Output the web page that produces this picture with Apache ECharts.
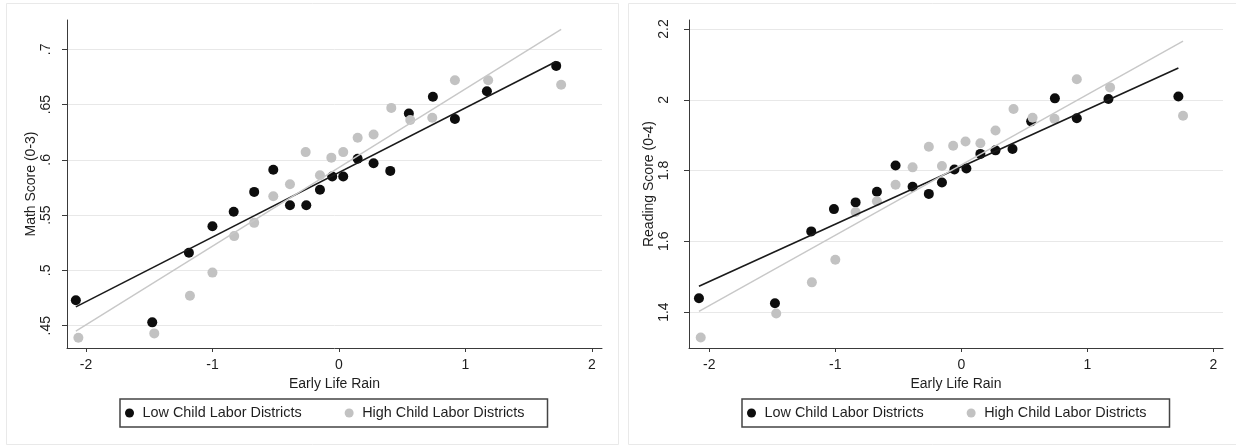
<!DOCTYPE html>
<html>
<head>
<meta charset="utf-8">
<script src="https://cdn.jsdelivr.net/npm/echarts@6/dist/echarts.min.js"></script>
<style>
  html, body { margin: 0; padding: 0; background: #fff; }
  #chart { width: 1236px; height: 446px; }
</style>
</head>
<body>
<div id="chart"></div>
<script>
// binned scatter values
const mathLowX = [-2.08, -1.476, -1.186, -1.0, -0.832, -0.67, -0.519, -0.387, -0.258, -0.15, -0.053, 0.034, 0.148, 0.274, 0.406, 0.553, 0.743, 0.917, 1.17, 1.718]
const mathLowY = [0.473, 0.453, 0.516, 0.540, 0.553, 0.571, 0.591, 0.559, 0.559, 0.573, 0.585, 0.585, 0.601, 0.597, 0.590, 0.642, 0.657, 0.637, 0.662, 0.685]
const mathHighX = [-2.06, -1.46, -1.178, -1.0, -0.828, -0.67, -0.519, -0.387, -0.263, -0.15, -0.06, 0.034, 0.148, 0.274, 0.414, 0.564, 0.738, 0.917, 1.18, 1.757]
const mathHighY = [0.439, 0.443, 0.477, 0.498, 0.531, 0.543, 0.567, 0.578, 0.607, 0.586, 0.602, 0.607, 0.620, 0.623, 0.647, 0.636, 0.638, 0.672, 0.672, 0.668]

const readLowX = [-2.082, -1.479, -1.191, -1.011, -0.839, -0.67, -0.522, -0.387, -0.258, -0.154, -0.055, 0.04, 0.151, 0.271, 0.406, 0.554, 0.742, 0.916, 1.167, 1.722]
const readLowY = [1.439, 1.425, 1.628, 1.691, 1.710, 1.740, 1.814, 1.754, 1.734, 1.766, 1.803, 1.806, 1.847, 1.857, 1.861, 1.939, 2.004, 1.948, 2.002, 2.009]
const readHighX = [-2.068, -1.469, -1.186, -1.0, -0.839, -0.67, -0.522, -0.387, -0.258, -0.154, -0.065, 0.033, 0.151, 0.271, 0.414, 0.565, 0.739, 0.916, 1.18, 1.759]
const readHighY = [1.328, 1.396, 1.484, 1.548, 1.683, 1.713, 1.760, 1.809, 1.867, 1.813, 1.870, 1.882, 1.877, 1.913, 1.974, 1.949, 1.946, 2.058, 2.035, 1.955]

// fitted lines (endpoints)
const mathLowFit = [[-2.08, 0.467], [1.718, 0.689]]
const mathHighFit = [[-2.08, 0.445], [1.757, 0.718]]
const readLowFit = [[-2.082, 1.473], [1.722, 2.090]]
const readHighFit = [[-2.082, 1.402], [1.759, 2.166]]

// tick labels
const rainTicks = [-2, -1, 0, 1, 2]
const mathTicks = [0.45, 0.5, 0.55, 0.6, 0.65, 0.7]
const readTicks = [1.4, 1.6, 1.8, 2, 2.2]

const seriesNames = ['Low Child Labor Districts', 'High Child Labor Districts']

const FONT = 'Liberation Sans'
const TEXT = '#1e1e1e'
const BLACK = '#0d0d0d'
const GRAY = '#c2c2c2'

const pairs = (xs, ys) => xs.map((x, i) => [x, ys[i]])
// Stata style numbers: .5 instead of 0.5
const stataNum = (v) => String(+v.toFixed(3)).replace(/^0\./, '.').replace(/^-0\./, '-.')

const xAxisBase = (gridIndex, min, max) => ({
  type: 'value',
  gridIndex,
  min,
  max,
  name: 'Early Life Rain',
  nameLocation: 'middle',
  nameGap: 29,
  nameTextStyle: { fontFamily: FONT, fontSize: 14, color: TEXT },
  axisLine: { show: true, onZero: false, lineStyle: { color: '#3a3a3a', width: 1 } },
  axisTick: { show: true, length: 4, customValues: rainTicks, lineStyle: { color: '#3a3a3a' } },
  axisLabel: { customValues: rainTicks, margin: 10, fontFamily: FONT, fontSize: 14, color: TEXT, formatter: stataNum },
  splitLine: { show: false },
})

const yAxisBase = (gridIndex, min, max, ticks, name, margin, nameGap) => ({
  type: 'value',
  gridIndex,
  min,
  max,
  name,
  nameLocation: 'middle',
  nameGap,
  nameTextStyle: { fontFamily: FONT, fontSize: 14, color: TEXT },
  axisLine: { show: true, onZero: false, lineStyle: { color: '#3a3a3a', width: 1 } },
  axisTick: { show: true, length: 5, customValues: ticks, lineStyle: { color: '#3a3a3a' } },
  axisLabel: { customValues: ticks, rotate: 90, margin, fontFamily: FONT, fontSize: 14, color: TEXT, formatter: stataNum },
  splitLine: { show: true, lineStyle: { color: '#e8e8e8', width: 1 } },
})

const legendBase = (left) => ({
  data: seriesNames,
  left,
  top: 399,
  orient: 'horizontal',
  icon: 'circle',
  itemWidth: 16,
  itemHeight: 9,
  itemGap: 43,
  padding: [7, 23, 7, 5],
  borderColor: '#444',
  borderWidth: 1.5,
  borderRadius: 0,
  selectedMode: false,
  textStyle: { fontFamily: FONT, fontSize: 14.4, color: TEXT, lineHeight: 14 },
})

const scatter = (name, data, color, idx) => ({
  name,
  type: 'scatter',
  xAxisIndex: idx,
  yAxisIndex: idx,
  data,
  symbol: 'circle',
  symbolSize: 10,
  itemStyle: { color, opacity: 1 },
  emphasis: { disabled: true },
})

const fitLine = (data, color, width, idx) => ({
  type: 'line',
  xAxisIndex: idx,
  yAxisIndex: idx,
  data,
  symbol: 'none',
  lineStyle: { color, width },
  z: 3,
  emphasis: { disabled: true },
})

const chart = echarts.init(document.getElementById('chart'), null, { renderer: 'canvas' })

chart.setOption({
  animation: false,
  backgroundColor: '#ffffff',
  textStyle: { fontFamily: FONT },
  graphic: [
    { type: 'rect', shape: { x: 6.5, y: 3.5, width: 612, height: 441 }, style: { fill: 'none', stroke: '#e9e9e9', lineWidth: 1 }, silent: true },
    { type: 'rect', shape: { x: 628.5, y: 3.5, width: 612, height: 441 }, style: { fill: 'none', stroke: '#e9e9e9', lineWidth: 1 }, silent: true },
  ],
  grid: [
    { left: 67, top: 20, width: 535, height: 328 },
    { left: 689, top: 20, width: 534, height: 328 },
  ],
  xAxis: [
    xAxisBase(0, -2.15, 2.08),
    xAxisBase(1, -2.161, 2.076),
  ],
  yAxis: [
    yAxisBase(0, 0.4298, 0.7265, mathTicks, 'Math Score (0-3)', 14, 28),
    yAxisBase(1, 1.2985, 2.2254, readTicks, 'Reading Score (0-4)', 18, 31),
  ],
  legend: [legendBase(120), legendBase(742)],
  series: [
    scatter(seriesNames[0], pairs(mathLowX, mathLowY), BLACK, 0),
    scatter(seriesNames[1], pairs(mathHighX, mathHighY), GRAY, 0),
    fitLine(mathLowFit, '#1a1a1a', 1.6, 0),
    fitLine(mathHighFit, '#c8c8c8', 1.4, 0),
    scatter(seriesNames[0], pairs(readLowX, readLowY), BLACK, 1),
    scatter(seriesNames[1], pairs(readHighX, readHighY), GRAY, 1),
    fitLine(readLowFit, '#1a1a1a', 1.6, 1),
    fitLine(readHighFit, '#c8c8c8', 1.4, 1),
  ],
})
</script>
</body>
</html>
